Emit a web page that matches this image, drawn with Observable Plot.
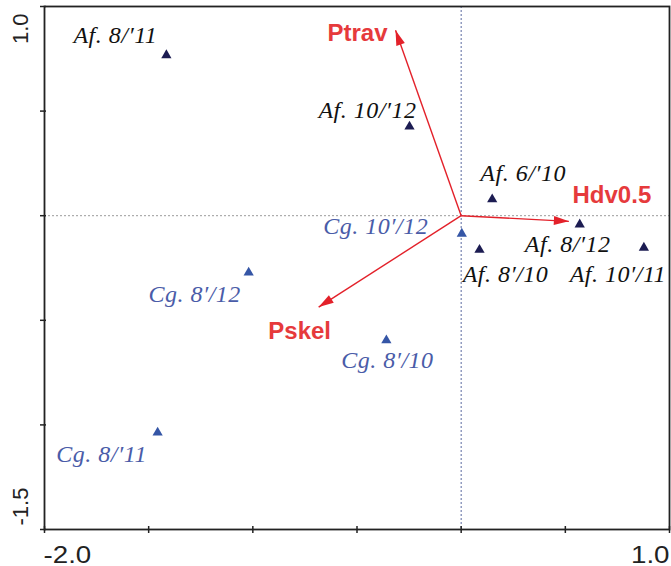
<!DOCTYPE html>
<html><head><meta charset="utf-8">
<script src="https://cdn.jsdelivr.net/npm/d3@7"></script>
<script src="https://cdn.jsdelivr.net/npm/@observablehq/plot@0.6"></script>
<style>html,body{margin:0;background:#fff} svg{display:block}</style>
</head><body><div id="chart"></div>
<script>
// Samples (site scores)
const sampleLabels = ["Af. 8/′11","Af. 10/′12","Af. 6/′10","Cg. 10′/12","Af. 8/′12","Af. 8′/10","Af. 10′/11","Cg. 8′/12","Cg. 8′/10","Cg. 8/′11"];
const sampleGroup  = ["Af","Af","Af","Cg","Af","Af","Af","Cg","Cg","Cg"];
const sampleX = [-1.415,-0.248,0.149,0.003,0.569,0.088,0.877,-1.020,-0.359,-1.457];
const sampleY = [0.767,0.426,0.078,-0.086,-0.042,-0.163,-0.153,-0.272,-0.596,-1.037];

// Environmental variables (arrows)
const varLabels = ["Ptrav","Hdv0.5","Pskel"];
const varX = [-0.315,0.517,-0.684];
const varY = [0.886,-0.027,-0.437];

// Axis ticks and labels
const xTicks = [-2,-1.5,-1,-0.5,0,0.5,1];
const yTicks = [1,0.5,0,-0.5,-1,-1.5];
const xTickLabels = ["-2.0","1.0"];
const xTickLabelValues = [-2,1];
const yTickLabels = ["1.0","-1.5"];
const yTickLabelValues = [1,-1.5];

// label placement (pixel offsets from the marker)
const sampleLabelOffset = {
  "Af. 8/′11":[-51,-12], "Af. 10/′12":[-42,-9], "Af. 6/′10":[31,-18],
  "Cg. 10′/12":[-86,0], "Af. 8/′12":[-12,28], "Af. 8′/10":[26,32],
  "Af. 10′/11":[-26,34], "Cg. 8′/12":[-54,29], "Cg. 8′/10":[1,28], "Cg. 8/′11":[-56,29]
};
const varLabelOffset = {"Ptrav":[-38,11],"Hdv0.5":[43,-18],"Pskel":[-19,32]};

const samples = sampleLabels.map((l,i)=>({label:l, group:sampleGroup[i], x:sampleX[i], y:sampleY[i]}));
const vars = varLabels.map((l,i)=>({label:l, x:varX[i], y:varY[i]}));

const RED = "#e3212a", RED_TXT = "#e63a3c";
const triFill = {Af:"#1c1c52", Cg:"#3556a6"};
const txtFill = {Af:"#111111", Cg:"#4a5ca8"};

const arrowHead = {draw(ctx){ ctx.moveTo(0,0); ctx.lineTo(-4.5,15); ctx.lineTo(4.5,15); ctx.closePath(); }};

const sampleText = samples.map(d => Plot.text([d], {
  x:"x", y:"y", text:"label", dx: sampleLabelOffset[d.label][0], dy: sampleLabelOffset[d.label][1],
  textAnchor:"middle", lineAnchor:"bottom", fill: txtFill[d.group],
  fontFamily:"'Liberation Serif','Times New Roman',serif", fontStyle:"italic", fontSize:24
}));
const varText = vars.map(d => Plot.text([d], {
  x:"x", y:"y", text:"label", dx: varLabelOffset[d.label][0], dy: varLabelOffset[d.label][1],
  textAnchor:"middle", lineAnchor:"bottom", fill: RED_TXT,
  fontFamily:"'Liberation Sans',Arial,sans-serif", fontWeight:"bold", fontSize:24
}));

const chart = Plot.plot({
  width:671, height:566,
  marginLeft:44, marginRight:2, marginTop:6, marginBottom:37,
  x:{domain:[-2,1]}, y:{domain:[-1.5,1]},
  style:{background:"#fff", color:"#222", fontFamily:"'Liberation Sans',Arial,sans-serif"},
  marks:[
    Plot.ruleY([0], {stroke:"#9a9a9a", strokeDasharray:"2,2", strokeWidth:1}),
    Plot.ruleX([0], {stroke:"#5a6aa0", strokeDasharray:"2,2", strokeWidth:1}),
    Plot.axisX({ticks:xTicks, tickSize:7, dy:-3, tickFormat:()=>"", label:null, stroke:"#222", strokeWidth:1.5}),
    Plot.axisY({ticks:yTicks, tickSize:6, dx:2, tickFormat:()=>"", label:null, stroke:"#222", strokeWidth:1.5}),
    Plot.text([xTickLabels[0]], {x:xTickLabelValues[0], frameAnchor:"bottom", text:d=>d,
      textAnchor:"start", lineAnchor:"bottom", dx:-1, dy:33, fontSize:23.5, fill:"#222"}),
    Plot.text([xTickLabels[1]], {x:xTickLabelValues[1], frameAnchor:"bottom", text:d=>d,
      textAnchor:"end", lineAnchor:"bottom", dx:0, dy:33, fontSize:23.5, fill:"#222"}),
    Plot.text([yTickLabels[0]], {y:yTickLabelValues[0], frameAnchor:"left", text:d=>d, rotate:-90,
      textAnchor:"end", lineAnchor:"bottom", dx:-17, dy:7, fontSize:22, fill:"#222"}),
    Plot.text([yTickLabels[1]], {y:yTickLabelValues[1], frameAnchor:"left", text:d=>d, rotate:-90,
      textAnchor:"start", lineAnchor:"bottom", dx:-17, dy:-4, fontSize:22, fill:"#222"}),
    Plot.frame({stroke:"#222", strokeWidth:1.8}),
    Plot.link(vars, {x1:d=>0, y1:d=>0, x2:"x", y2:"y", stroke:RED, strokeWidth:1.4}),
    Plot.dot(vars, {x:"x", y:"y", symbol:arrowHead, rotate:d=>Math.atan2(d.x, d.y)*180/Math.PI, fill:RED, stroke:"none"}),
    Plot.dot(samples, {x:"x", y:"y", symbol:"triangle", r:3.8, fill:d=>triFill[d.group], stroke:"none"}),
    ...sampleText,
    ...varText
  ]
});
document.getElementById("chart").appendChild(chart);
const svg = d3.select(chart);
svg.selectAll('g[font-style="italic"] text').style("letter-spacing","0.5px");
// widen the x tick labels horizontally like the reference
svg.selectAll('g[font-size="23.5"] text').each(function(){
  let t = this.getAttribute("transform") || "";
  const x = this.getAttribute("x"), y = this.getAttribute("y");
  if (x != null || y != null) {
    t = `translate(${x||0},${y||0}) ` + t;
    this.removeAttribute("x"); this.removeAttribute("y");
  }
  this.setAttribute("transform", t + " scale(1.18,1)");
});
</script>
</body></html>
